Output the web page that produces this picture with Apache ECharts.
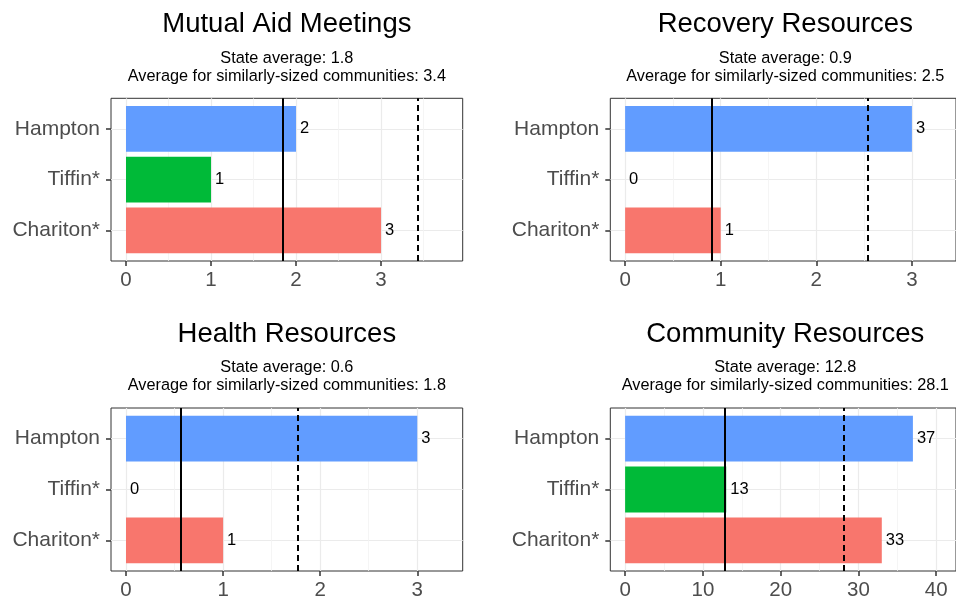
<!DOCTYPE html>
<html>
<head>
<meta charset="utf-8">
<script src="https://cdn.jsdelivr.net/npm/echarts@6/dist/echarts.min.js"></script>
<style>
  html, body { margin: 0; padding: 0; background: #fff; }
  #main { width: 956px; height: 602px; }
</style>
</head>
<body>
<div id="main"></div>
<script>
// data
var communities = ['Hampton', 'Tiffin*', 'Chariton*'];
var panelTitles = ['Mutual Aid Meetings', 'Recovery Resources', 'Health Resources', 'Community Resources'];
var mutualAid = [2, 1, 3];
var recovery = [3, 0, 1];
var health = [3, 0, 1];
var community = [37, 13, 33];
var stateAvg = [1.84, 0.91, 0.56, 12.8];
var similarAvg = [3.43, 2.54, 1.77, 28.06];
var ticksSmall = [0, 1, 2, 3];
var ticksCommunity = [0, 10, 20, 30, 40];
var minorSmall = [0.5, 1.5, 2.5, 3.5];
var minorCommunity = [5, 15, 25, 35];

var FONT = "'Liberation Sans', Arial, sans-serif";
var barColors = ['#619CFF', '#00BA38', '#F8766D'];

var panels = [
  { title: panelTitles[0], values: mutualAid, min: -0.1765, max: 3.961, ticks: ticksSmall, minor: minorSmall },
  { title: panelTitles[1], values: recovery, min: -0.155, max: 3.461, ticks: ticksSmall, minor: minorSmall },
  { title: panelTitles[2], values: health, min: -0.1545, max: 3.468, ticks: ticksSmall, minor: minorSmall },
  { title: panelTitles[3], values: community, min: -1.905, max: 42.54, ticks: ticksCommunity, minor: minorCommunity }
];
var frames = [
  { left: 111, top: 98.3, width: 351.7, height: 162.7 },
  { left: 610.3, top: 98.3, width: 350, height: 162.7 },
  { left: 111, top: 408, width: 351.7, height: 163 },
  { left: 610.3, top: 408, width: 350, height: 163 }
];

var grids = [], xAxes = [], yAxes = [], series = [], graphics = [];

panels.forEach(function (p, i) {
  var f = frames[i];
  var unit = f.height / 3.2;   // ggplot discrete axis: 3 categories + 0.6 padding
  var inRange = function (v) { return v > p.min && v < p.max; };

  // outer frame (border, x axis, vertical lines)
  grids.push({ left: f.left, top: f.top, width: f.width, height: f.height,
    show: true, borderColor: '#333', borderWidth: 1, backgroundColor: 'transparent' });
  // inner grid for the bars (category centres at its edges)
  grids.push({ left: f.left, top: f.top + 0.6 * unit, width: f.width, height: 2 * unit });

  xAxes.push({
    gridIndex: 2 * i, type: 'value', min: p.min, max: p.max,
    axisLine: { show: false, onZero: false }, splitLine: { show: false },
    axisTick: { show: true, length: 5, customValues: p.ticks, lineStyle: { color: '#333', width: 1.5 } },
    axisLabel: { customValues: p.ticks, color: '#4D4D4D', fontSize: 20.5, fontFamily: FONT, margin: 9 }
  });
  xAxes.push({ gridIndex: 2 * i + 1, type: 'value', min: p.min, max: p.max, show: false });

  yAxes.push({ gridIndex: 2 * i, type: 'value', min: 0, max: 1, show: false });
  yAxes.push({
    gridIndex: 2 * i + 1, type: 'category', data: communities, inverse: true, boundaryGap: false,
    axisLine: { show: false, onZero: false },
    axisTick: { show: true, length: 5, lineStyle: { color: '#333', width: 1.5 } },
    axisLabel: { color: '#4D4D4D', fontSize: 21, fontFamily: FONT, margin: 11 },
    splitLine: { show: true, lineStyle: { color: '#EBEBEB', width: 1.2 } }
  });

  // vertical grid lines, kept under the bars
  var gridLines = p.ticks.filter(inRange).map(function (v) {
    return { xAxis: v, lineStyle: { color: '#EBEBEB', width: 1.2, type: 'solid' } };
  }).concat(p.minor.filter(inRange).map(function (v) {
    return { xAxis: v, lineStyle: { color: '#F3F3F3', width: 0.8, type: 'solid' } };
  }));
  series.push({
    type: 'line', xAxisIndex: 2 * i, yAxisIndex: 2 * i, data: [], z: 1, silent: true,
    markLine: { z: 0, silent: true, symbol: ['none', 'none'], label: { show: false },
      emphasis: { disabled: true }, data: gridLines }
  });

  series.push({
    type: 'bar', xAxisIndex: 2 * i + 1, yAxisIndex: 2 * i + 1, z: 2, clip: false,
    barWidth: 0.9 * unit,
    data: p.values.map(function (v, k) { return { value: v, itemStyle: { color: barColors[k] } }; }),
    label: { show: true, position: 'right', distance: 4, color: '#000', fontSize: 16.5, fontFamily: FONT }
  });

  // state average (solid) and similar-size average (dashed)
  series.push({
    type: 'line', xAxisIndex: 2 * i, yAxisIndex: 2 * i, data: [], z: 3, silent: true,
    markLine: { z: 10, silent: true, symbol: ['none', 'none'], label: { show: false },
      emphasis: { disabled: true },
      data: [
        { xAxis: stateAvg[i], lineStyle: { color: '#000', width: 2, type: 'solid' } },
        { xAxis: similarAvg[i], lineStyle: { color: '#000', width: 2, type: [6, 4] } }
      ] }
  });

  var cx = f.left + f.width / 2;
  graphics.push({ type: 'text', x: cx, y: f.top - 74, silent: true,
    style: { text: p.title, fill: '#000', fontSize: 27.5, fontFamily: FONT, align: 'center', verticalAlign: 'middle' } });
  graphics.push({ type: 'text', x: cx, y: f.top - 40, silent: true,
    style: { text: 'State average: ' + stateAvg[i].toFixed(1), fill: '#000', fontSize: 16.3, fontFamily: FONT, align: 'center', verticalAlign: 'middle' } });
  graphics.push({ type: 'text', x: cx, y: f.top - 22, silent: true,
    style: { text: 'Average for similarly-sized communities: ' + similarAvg[i].toFixed(1), fill: '#000', fontSize: 16.3, fontFamily: FONT, align: 'center', verticalAlign: 'middle' } });
});

var myChart = echarts.init(document.getElementById('main'));
myChart.setOption({
  animation: false,
  backgroundColor: '#fff',
  textStyle: { fontFamily: FONT },
  grid: grids,
  xAxis: xAxes,
  yAxis: yAxes,
  series: series,
  graphic: graphics
});
</script>
</body>
</html>
